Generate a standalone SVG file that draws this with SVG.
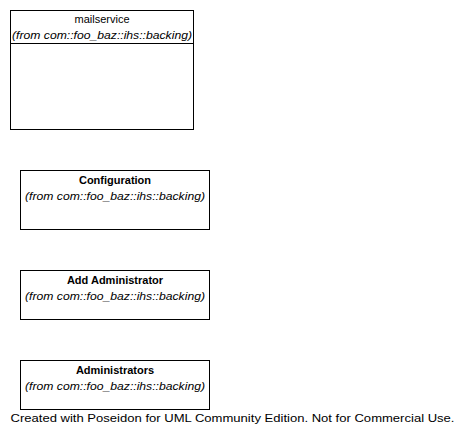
<svg xmlns="http://www.w3.org/2000/svg" width="466" height="442" viewBox="0 0 466 442">
<style>
.box{fill:#fff;stroke:#000;stroke-width:1}
text{font-family:"Liberation Sans",Arial,sans-serif;font-size:11px;fill:#000;text-anchor:middle}
.b{font-weight:bold}
.i{font-style:italic}
</style>
<rect width="466" height="442" fill="#fff"/>
<g id="mailservice">
<rect class="box" x="10.5" y="10.5" width="183" height="119"/>
<line x1="10.5" y1="43.5" x2="193.5" y2="43.5" stroke="#000"/>
<text x="102" y="23">mailservice</text>
<text class="i" x="102" y="39" textLength="180" lengthAdjust="spacingAndGlyphs">(from com::foo_baz::ihs::backing)</text>
</g>
<g id="configuration">
<rect class="box" x="20.5" y="170.5" width="189" height="59"/>
<text class="b" x="115" y="184">Configuration</text>
<text class="i" x="115" y="200" textLength="180" lengthAdjust="spacingAndGlyphs">(from com::foo_baz::ihs::backing)</text>
</g>
<g id="addadministrator">
<rect class="box" x="20.5" y="270.5" width="189" height="49"/>
<text class="b" x="115" y="284">Add Administrator</text>
<text class="i" x="115" y="300" textLength="180" lengthAdjust="spacingAndGlyphs">(from com::foo_baz::ihs::backing)</text>
</g>
<g id="administrators">
<rect class="box" x="20.5" y="360.5" width="189" height="49"/>
<text class="b" x="115" y="374">Administrators</text>
<text class="i" x="115" y="390" textLength="180" lengthAdjust="spacingAndGlyphs">(from com::foo_baz::ihs::backing)</text>
</g>
<g id="connectors"></g>
<text x="232.5" y="422" textLength="444" lengthAdjust="spacingAndGlyphs">Created with Poseidon for UML Community Edition. Not for Commercial Use.</text>
</svg>
